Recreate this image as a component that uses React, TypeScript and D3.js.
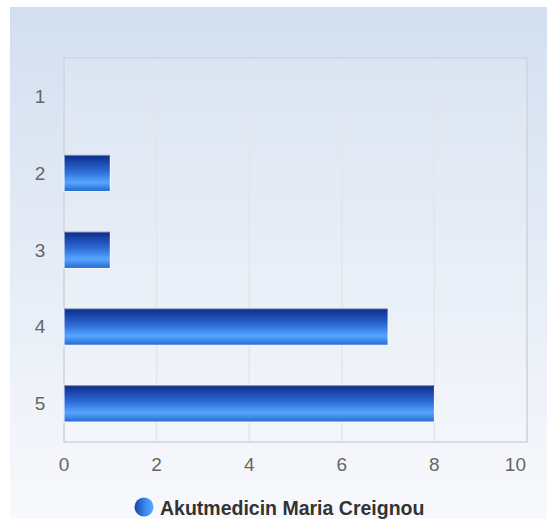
import React from "react";
import * as d3 from "d3";

const categories = ["1", "2", "3", "4", "5"];
const values = [0, 1, 1, 7, 8];
const xTicks = [0, 2, 4, 6, 8, 10];
const seriesName = "Akutmedicin Maria Creignou";

export default function App() {
  const W = 547, H = 519;
  const left = 64, right = 527, top = 58, bottom = 442;
  const x = d3.scaleLinear().domain([0, 10]).range([left, right]);
  const y = d3.scaleBand().domain(categories).range([top, bottom]).paddingInner(0.52).paddingOuter(0.26);
  const font = "Arial, 'Liberation Sans', sans-serif";
  const lastTick = xTicks[xTicks.length - 1];
  return (
    <svg width={W} height={H} style={{ position: "absolute", left: 0, top: 0 }}>
      <defs>
        <linearGradient id="bg" x1="0" y1="0" x2="0" y2="1">
          <stop offset="0" stopColor="#d3dff0" />
          <stop offset="1" stopColor="#f8f9fc" />
        </linearGradient>
        <linearGradient id="bar" x1="0" y1="0" x2="0" y2="1">
          <stop offset="0" stopColor="#0b2a8a" />
          <stop offset="0.45" stopColor="#2d6bd6" />
          <stop offset="0.75" stopColor="#55a6ff" />
          <stop offset="1" stopColor="#2468d0" />
        </linearGradient>
        <linearGradient id="leg" x1="0" y1="0" x2="1" y2="0">
          <stop offset="0" stopColor="#1543a8" />
          <stop offset="0.6" stopColor="#3f8cf0" />
          <stop offset="1" stopColor="#5aa8ff" />
        </linearGradient>
      </defs>
      <rect x={10} y={7} width={W - 10} height={H - 7} fill="url(#bg)" />
      <rect x={left} y={top} width={right - left} height={bottom - top} fill="rgba(255,255,255,0.12)" />
      {xTicks.map((t) => (
        <line key={t} x1={x(t)} x2={x(t)} y1={top} y2={bottom} stroke="#e2e6ec" strokeWidth={1.5} />
      ))}
      <rect x={left} y={top} width={right - left} height={bottom - top} fill="none" stroke="#cfd4db" strokeWidth={1.5} />
      {categories.map((c, i) =>
        values[i] > 0 ? (
          <g key={c}>
            <rect x={x(0)} y={y(c)!} width={x(values[i]) - x(0)} height={y.bandwidth()} fill="url(#bar)" stroke="#ffffff" strokeWidth={1} />
            <line x1={x(0)} x2={x(values[i])} y1={y(c)! + 0.5} y2={y(c)! + 0.5} stroke="#7d8aa6" strokeWidth={1} />
          </g>
        ) : null
      )}
      {categories.map((c) => (
        <text key={c} x={40} y={y(c)! + y.bandwidth() / 2} textAnchor="middle" dominantBaseline="central" fill="#666" fontSize={19} fontFamily={font}>
          {c}
        </text>
      ))}
      {xTicks.map((t) => (
        <text
          key={t}
          x={t === lastTick ? x(t) - 1 : x(t)}
          y={464}
          textAnchor={t === lastTick ? "end" : "middle"}
          dominantBaseline="central"
          fill="#666"
          fontSize={19}
          fontFamily={font}
        >
          {t}
        </text>
      ))}
      <circle cx={144} cy={507} r={9.5} fill="url(#leg)" />
      <text x={160} y={508} dominantBaseline="central" fill="#333" fontSize={19.5} fontWeight="bold" fontFamily={font}>
        {seriesName}
      </text>
    </svg>
  );
}
